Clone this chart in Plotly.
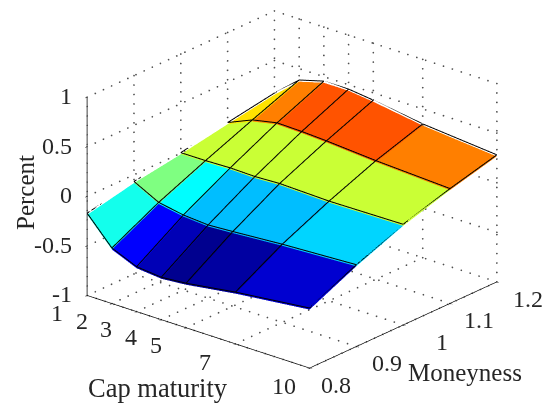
import numpy as np
import plotly.graph_objects as go

maturity = [1, 2, 3, 4, 5, 7, 10]
moneyness = [0.8, 0.9, 1.0, 1.1, 1.2]
z_ticks = [-1, -0.5, 0, 0.5, 1]
z_labels = ["-1", "-0.5", "0", "0.5", "1"]
m_labels = ["0.8", "0.9", "1", "1.1", "1.2"]
t_labels = ["1", "2", "3", "4", "5", "7", "10"]

# percent: one list per moneyness, one value per maturity
z_080 = [-0.186, -0.456, -0.563, -0.588, -0.567, -0.494, -0.411]
z_090 = [-0.083, -0.213, -0.259, -0.278, -0.263, -0.228, -0.191]
z_100 = [-0.010, -0.009, -0.001, -0.007, 0.004, -0.011, -0.001]
z_110 = [0.076, 0.184, 0.236, 0.230, 0.217, 0.180, 0.142]
z_120 = [0.156, 0.369, 0.439, 0.440, 0.410, 0.333, 0.265]
Z = np.array([z_080, z_090, z_100, z_110, z_120])

# colour value per surface cell on the jet map: one list per moneyness band
c_080 = [0.38, 0.11, 0.04, 0.00, 0.02, 0.065]
c_090 = [0.485, 0.36, 0.2975, 0.2975, 0.2975, 0.32]
c_100 = [0.56, 0.56, 0.56, 0.56, 0.56, 0.56]
c_110 = [0.64, 0.735, 0.777, 0.777, 0.777, 0.735]
C = [c_080, c_090, c_100, c_110]

jet = [[0, "rgb(0,0,143)"], [0.11, "rgb(0,0,255)"], [0.36, "rgb(0,255,255)"],
       [0.61, "rgb(255,255,0)"], [0.86, "rgb(255,0,0)"], [1, "rgb(128,0,0)"]]

INK = "#262626"
FONT = "Liberation Serif"

nm, nt = len(moneyness), len(maturity)
idx = lambda j, i: j * nt + i
TT, MM = np.meshgrid(maturity, moneyness)
fi, fj, fk, fc = [], [], [], []
for j in range(nm - 1):
    for i in range(nt - 1):
        a, b, c_, d = idx(j, i), idx(j, i + 1), idx(j + 1, i + 1), idx(j + 1, i)
        fi += [a, a]; fj += [b, c_]; fk += [c_, d]
        fc += [C[j][i], C[j][i]]

fig = go.Figure()
fig.add_trace(go.Mesh3d(
    x=TT.ravel(), y=MM.ravel(), z=Z.ravel(), i=fi, j=fj, k=fk,
    intensity=fc, intensitymode="cell", colorscale=jet, cmin=0, cmax=1,
    showscale=False, flatshading=True, hoverinfo="skip",
    lighting=dict(ambient=1, diffuse=0, specular=0, fresnel=0, roughness=1),
))

def lines(xs, ys, zs, color, width):
    fig.add_trace(go.Scatter3d(x=xs, y=ys, z=zs, mode="lines", hoverinfo="skip",
                               showlegend=False, line=dict(color=color, width=width)))

# black cell edges
ex, ey, ez = [], [], []
lift = 0.016
for j in range(nm):
    ex += list(maturity) + [None]; ey += [moneyness[j]] * nt + [None]; ez += list(Z[j] + lift) + [None]
for i in range(nt):
    ex += [maturity[i]] * nm + [None]; ey += list(moneyness) + [None]; ez += list(Z[:, i] + lift) + [None]
lines(ex, ey, ez, "black", 2)

# dotted grid on the three back walls, drawn as fine dots
t0, t1, m0, m1, z0, z1 = 1, 10, 0.8, 1.2, -1, 1
gx, gy, gz = [], [], []
def dotted(a, b, n):
    for s in np.linspace(0, 1, n + 1):
        gx.append(a[0] + s * (b[0] - a[0])); gy.append(a[1] + s * (b[1] - a[1])); gz.append(a[2] + s * (b[2] - a[2]))
NT, NM, NZ = 25, 23, 21
for t in maturity:
    dotted((t, m0, z0), (t, m1, z0), NM)
    dotted((t, m1, z0), (t, m1, z1), NZ)
for m in moneyness:
    dotted((t0, m, z0), (t1, m, z0), NT)
    dotted((t0, m, z0), (t0, m, z1), NZ)
for v in z_ticks:
    dotted((t0, m0, v), (t0, m1, v), NM)
    dotted((t0, m1, v), (t1, m1, v), NT)
fig.add_trace(go.Scatter3d(x=gx, y=gy, z=gz, mode="markers", hoverinfo="skip", showlegend=False,
                           marker=dict(size=1, color="#505050", line=dict(width=0))))

def ann(x, y, z, text, dx, dy, anchor="center"):
    return dict(x=x, y=y, z=z, text=text, showarrow=False, xshift=dx, yshift=dy,
                xanchor=anchor, yanchor="middle",
                font=dict(family=FONT, size=24, color=INK))

anns = []
for t, s in zip(maturity, t_labels):
    anns.append(ann(t, 0.8, -1, s, -25 if t == 10 else -30, -18))
for m, s, dx in zip(moneyness, m_labels, [27, 31, 39, 29, 32]):
    anns.append(ann(10, m, -1, s, dx, -17))
for v, s in zip(z_ticks, z_labels):
    anns.append(ann(1, 0.8, v, s, -13, 1, "right"))

base_axis = dict(showbackground=False, showgrid=False, zeroline=False, showspikes=False,
                 showline=True, linecolor="black", linewidth=1.5, ticks="outside", ticklen=3,
                 tickcolor="black", tickwidth=1, showticklabels=False, title=dict(text=""))

th, ph = np.radians(40.1), np.radians(22.8)
R = 1.9
eye = dict(x=R * np.sin(th) * np.cos(ph), y=-R * np.cos(th) * np.cos(ph), z=R * np.sin(ph))
K = 1.602

# the page body sits 8 px in from the window's corner
def title(text, px, py, size, **kw):
    return dict(xref="paper", yref="paper", x=(px - 8) / 554, y=1 - (py - 8) / 403, text=text, showarrow=False,
                xanchor="center", yanchor="middle", font=dict(family=FONT, size=size, color=INK), **kw)

fig.update_layout(
    width=554, height=403, margin=dict(l=0, r=0, t=0, b=0),
    paper_bgcolor="white", showlegend=False,
    scene=dict(
        domain=dict(x=[0.041, 0.983], y=[0.10, 1]),
        xaxis=dict(base_axis, range=[1, 10], tickvals=maturity),
        yaxis=dict(base_axis, range=[0.8, 1.2], tickvals=moneyness),
        zaxis=dict(base_axis, range=[-1, 1], tickvals=z_ticks, linewidth=2, linecolor="#404040"),
        aspectmode="manual", aspectratio=dict(x=K, y=K, z=0.74 * K),
        camera=dict(eye=eye, center=dict(x=0, y=0, z=0), up=dict(x=0, y=0, z=1),
                    projection=dict(type="orthographic")),
        annotations=anns,
    ),
    annotations=[
        title("Cap maturity", 158, 388, 26.5),
        title("Moneyness", 465, 372, 25),
        title("Percent", 25, 193, 25, textangle=-90),
    ],
)
fig.write_html("out.html")
